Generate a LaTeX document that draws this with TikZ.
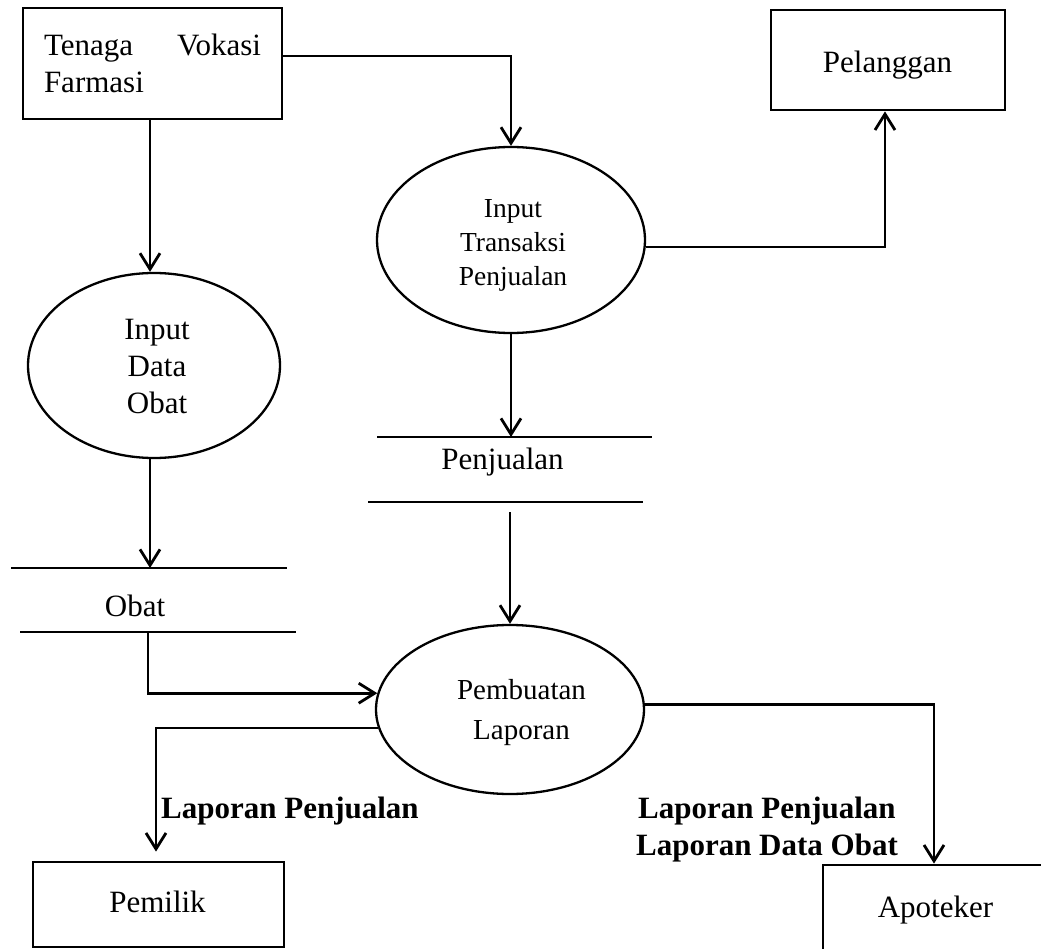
\documentclass[tikz,border=0pt]{standalone}
\usepackage{fontspec}
\setmainfont{Liberation Serif}
\usetikzlibrary{arrows.meta,shapes.geometric}
\begin{document}
\begin{tikzpicture}[x=1pt,y=-1pt,
  txt/.style={font=\fontsize{31}{37}\selectfont, inner sep=0pt},
  entity/.style={draw, line width=2.8pt, rectangle, inner sep=0pt},
  process/.style={draw, line width=2.3pt, ellipse, inner sep=0pt},
  storeline/.style={line width=2.8pt},
  flow/.style={line width=2.8pt, -{Straight Barb[length=16pt,width=20pt]}},
  flowlabel/.style={font=\fontsize{31}{37}\selectfont\bfseries, inner sep=0pt, align=center}
]
\useasboundingbox (0,0) rectangle (1041,949);
\clip (0,0) rectangle (1041,949);

% external entities
\node[entity, minimum width=259pt, minimum height=111pt, text width=217pt,
      align=justify, font=\fontsize{31}{37}\selectfont]
      (tenaga) at (152.5,63.5) {\noindent\hyphenpenalty10000\relax Tenaga Vokasi Farmasi};

\node[entity, minimum width=234pt, minimum height=100pt] (pelanggan) at (888,60) {};
\node[txt, anchor=base] (pelanggantext) at (887.5,73) {Pelanggan};

\node[entity, minimum width=251pt, minimum height=85pt] (pemilik) at (158.5,904.5) {};
\node[txt, anchor=base] (pemiliktext) at (157.5,912) {Pemilik};

\node[entity, minimum width=237pt, minimum height=105pt] (apoteker) at (941.5,917.5) {};
\node[txt, anchor=base] (apotekertext) at (935.5,917) {Apoteker};

% processes
\node[process, minimum width=268pt, minimum height=186pt] (trans) at (511,240) {};
\node[txt, font=\fontsize{27.5}{34}\selectfont, align=center] (transtext) at (513,245.6)
     {Input\\Transaksi\\Penjualan};

\node[process, minimum width=252pt, minimum height=185pt] (dataobat) at (154,365.5) {};
\node[txt, align=center] (dataobattext) at (157,366.4) {Input\\Data\\Obat};

\node[process, minimum width=268pt, minimum height=169pt] (laporan) at (510,709.5) {};
\node[txt, font=\fontsize{29}{40}\selectfont, align=center] (laporantext) at (521.5,712.2)
     {Pembuatan\\Laporan};

% data stores
\draw[storeline] (377,437) -- (652,437);
\draw[storeline] (368,502) -- (643,502);
\node[txt, anchor=base] (pjtext) at (502.5,469) {Penjualan};
\coordinate (pjin) at (511,437);
\coordinate (pjout) at (510,512);

\draw[storeline] (11,568) -- (287,568);
\draw[storeline] (20,632) -- (296,632);
\node[txt, anchor=base] (obattext) at (135,616) {Obat};
\coordinate (obin) at (150,568);
\coordinate (obout) at (148,632);

% data flows
\draw[flow] (tenaga.south -| obin) -- (dataobat.north -| obin);
\draw[flow] (dataobat.south -| obin) -- (obin);
\draw[flow] (obout) |- (laporan.173);
\draw[flow] ([yshift=7.5pt]tenaga.east) -| (trans.north);
\draw[flow] (trans.-3) -| ([xshift=-3pt]pelanggan.south);
\draw[flow] (trans.south) -- (pjin);
\draw[flow] (pjout) -- (laporan.north);
\draw[flow, shorten >=9pt] (laporan.188) -| ([xshift=-2.5pt]pemilik.north);
\draw[flow] (laporan.2) -| ([xshift=-7.5pt]apoteker.north);

% flow labels
\node[flowlabel, anchor=base west] (lapjual) at (161,818) {Laporan Penjualan};
\node[flowlabel] (lapboth) at (767,829.4) {Laporan Penjualan\\Laporan Data Obat};
\end{tikzpicture}
\end{document}
